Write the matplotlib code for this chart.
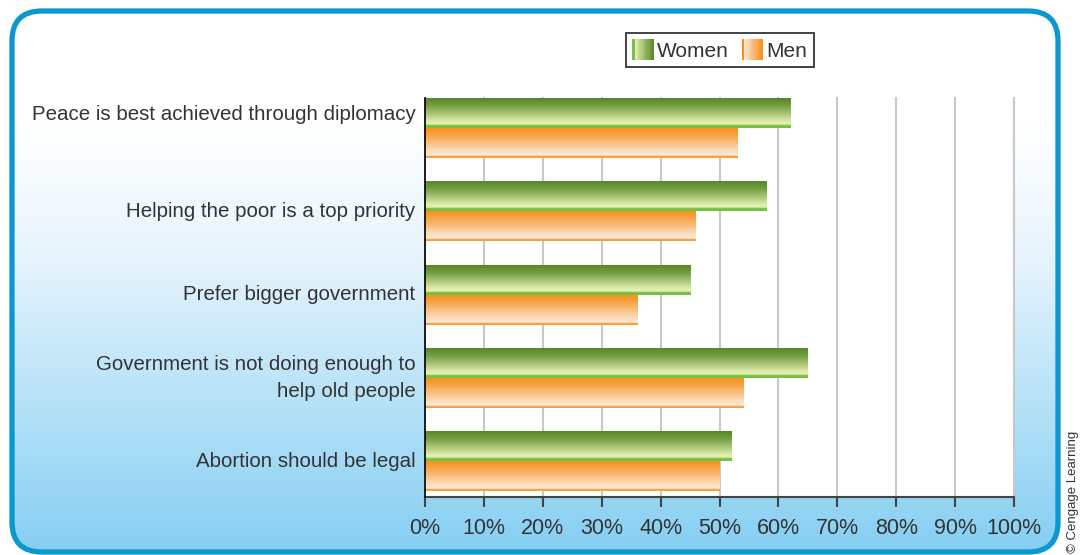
import numpy as np
import matplotlib
matplotlib.use('Agg')
import matplotlib.pyplot as plt
from matplotlib.patches import FancyBboxPatch, Rectangle
from matplotlib.legend_handler import HandlerBase

plt.rcParams['font.family'] = ['Liberation Sans', 'DejaVu Sans']

# survey share agreeing, in percent
categories = [
    'Peace is best achieved through diplomacy\n',
    'Helping the poor is a top priority',
    'Prefer bigger government',
    'Government is not doing enough to\nhelp old people',
    'Abortion should be legal',
]
women = [62, 58, 45, 65, 52]
men = [53, 46, 36, 54, 50]
xticks = list(range(0, 101, 10))
xtick_labels = [f'{t}%' for t in xticks]

TEXT = '#333333'
BORDER = '#0a98cd'


def vgrad(stops, n=80):
    # stops: list of (position 0..1 from top, rgb)
    pos = np.array([s[0] for s in stops])
    cols = np.array([s[1] for s in stops], dtype=float)
    t = np.linspace(0, 1, n)
    rgb = np.stack([np.interp(t, pos, cols[:, k]) for k in range(3)], axis=1)
    return rgb[:, None, :]


women_grad = vgrad([(0.0, (0.34, 0.53, 0.17)), (0.25, (0.45, 0.62, 0.25)),
                    (0.82, (0.90, 0.94, 0.70)), (0.88, (0.88, 0.94, 0.66)),
                    (0.92, (0.47, 0.75, 0.27)), (1.0, (0.47, 0.75, 0.27))])
men_grad = vgrad([(0.0, (0.97, 0.57, 0.12)), (0.2, (0.97, 0.63, 0.25)),
                  (0.88, (0.99, 0.91, 0.84)), (0.92, (0.99, 0.90, 0.80)),
                  (0.95, (0.97, 0.62, 0.25)), (1.0, (0.97, 0.62, 0.25))])

W, H = 1081, 555
fig = plt.figure(figsize=(W / 100, H / 100), dpi=100)
fig.patch.set_facecolor('white')

# panel background: rounded frame with white-to-sky-blue fade
bg = fig.add_axes([0, 0, 1, 1], zorder=0)
bg.set_xlim(0, W)
bg.set_ylim(H, 0)
bg.axis('off')
fade = vgrad([(0.0, (1, 1, 1)), (0.22, (1, 1, 1)), (0.45, (0.91, 0.96, 0.99)),
              (1.0, (0.52, 0.81, 0.95))], n=200)
img = bg.imshow(fade, extent=(0, W, H, 0), aspect='auto', origin='upper', zorder=1)
frame = FancyBboxPatch((12, 11), 1046, 541, boxstyle='round,pad=0,rounding_size=30',
                       facecolor='none', edgecolor=BORDER, linewidth=3.8, zorder=3)
bg.add_patch(frame)
img.set_clip_path(frame)
bg.text(1073, 553, '© Cengage Learning', rotation=90, ha='center', va='bottom',
        fontsize=9.5, color=TEXT)

ax = fig.add_axes([425 / W, 1 - 497 / H, (1014 - 425) / W, (497 - 98) / H], zorder=2)
ax.set_facecolor('white')

pos = np.arange(len(categories))
h = 0.36
wbars = ax.barh(pos - h / 2, women, height=h, color='none', linewidth=0)
mbars = ax.barh(pos + h / 2, men, height=h, color='none', linewidth=0)
for bars, grad in ((wbars, women_grad), (mbars, men_grad)):
    for p in bars:
        x, y = p.get_xy()
        ax.imshow(grad, extent=(x, x + p.get_width(), y + p.get_height(), y),
                  aspect='auto', origin='upper', zorder=3)

ax.set_xlim(0, 100)
ax.set_ylim(4.43, -0.36)
ax.set_xticks(xticks)
ax.set_xticklabels(xtick_labels)
ax.set_yticks(pos)
ax.set_yticklabels(categories, linespacing=1.55, va='center')
ax.set_axisbelow(True)
ax.grid(axis='x', color='#c8c8c8', linewidth=1.5)
for gl in ax.get_xgridlines():
    gl.set_clip_on(False)
ax.tick_params(axis='x', length=7, width=1.5, color='#444444', labelsize=15.5,
               labelcolor=TEXT, pad=8)
ax.tick_params(axis='y', length=0, labelsize=14.8, labelcolor=TEXT, pad=7)
for s in ('top', 'right'):
    ax.spines[s].set_visible(False)
ax.spines['left'].set_color('black')
ax.spines['left'].set_linewidth(1.2)
ax.spines['left'].set_zorder(4)
ax.spines['bottom'].set_color('#444444')
ax.spines['bottom'].set_linewidth(1.5)


class GradientHandle(HandlerBase):
    def __init__(self, colors):
        super().__init__()
        self.colors = colors

    def create_artists(self, legend, orig_handle, xdescent, ydescent,
                       width, height, fontsize, trans):
        n = len(self.colors)
        out = []
        for i, c in enumerate(self.colors):
            out.append(Rectangle((-xdescent + i * width / n, -ydescent), width / n + 0.3,
                                 height, facecolor=c, edgecolor='none', transform=trans))
        return out


def hgrad(c0, c1, edge, n=16):
    c0, c1 = np.array(c0), np.array(c1)
    return [edge, edge] + [tuple(c0 + (c1 - c0) * k / (n - 1)) for k in range(n)]


women_key = Rectangle((0, 0), 1, 1)
men_key = Rectangle((0, 0), 1, 1)
leg = fig.legend([women_key, men_key], ['Women', 'Men'], loc='center',
                 bbox_to_anchor=(720 / W, 1 - 50 / H), ncol=2, fontsize=15,
                 frameon=True, fancybox=False, edgecolor='#222222', framealpha=1,
                 handlelength=1.0, handleheight=1.15, handletextpad=0.2,
                 columnspacing=0.6, borderpad=0.3, borderaxespad=0,
                 handler_map={
                     women_key: GradientHandle(hgrad((0.90, 0.94, 0.70), (0.36, 0.55, 0.18),
                                                     (0.47, 0.75, 0.27))),
                     men_key: GradientHandle(hgrad((0.99, 0.90, 0.82), (0.97, 0.57, 0.12),
                                                   (0.97, 0.55, 0.10))),
                 })
leg.get_frame().set_linewidth(1.2)
for t in leg.get_texts():
    t.set_color(TEXT)

fig.savefig('out.png', dpi=100)
plt.close(fig)
